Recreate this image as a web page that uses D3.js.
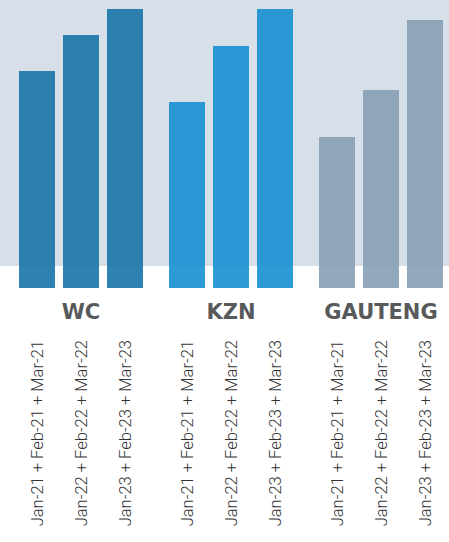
<!DOCTYPE html>
<html>
<head>
<meta charset="utf-8">
<script src="https://cdn.jsdelivr.net/npm/d3@7"></script>
<style>
    html, body { margin: 0; padding: 0; background: #ffffff; }
    svg { display: block; }
</style>
</head>
<body>
<svg id="chart"></svg>
<script>
"use strict";

const width = 449;
const height = 542;

const bar_bottom = 288;
const bar_top = 9;
const band_bottom = 266;

// data (bar heights, no axis shown)
const regions = ["WC", "KZN", "GAUTENG"];
const periods = [
    "Jan-21 + Feb-21 + Mar-21",
    "Jan-22 + Feb-22 + Mar-22",
    "Jan-23 + Feb-23 + Mar-23"
];
const wc_values = [217, 253, 279];
const kzn_values = [186, 242, 279];
const gauteng_values = [151, 198, 268];

const series = [wc_values, kzn_values, gauteng_values];

const colors = {
    "WC": "#1774a6",
    "KZN": "#1790d1",
    "GAUTENG": "#869fb5"
};


const svg1 = d3.select("#chart")
    .attr("width", width)
    .attr("height", height);

// grey band behind the bars
svg1.append("rect")
    .attr("x", 0)
    .attr("y", 0)
    .attr("width", width)
    .attr("height", band_bottom)
    .attr("fill", "#d7dfe8");

const x0 = d3.scaleBand()
    .domain(regions)
    .range([6, 456])
    .paddingInner(26 / 150)
    .paddingOuter(13 / 150);

const x1 = d3.scaleBand()
    .domain(periods)
    .range([0, x0.bandwidth()])
    .paddingInner(8 / 44)
    .paddingOuter(0);

const y = d3.scaleLinear()
    .domain([0, 279])
    .range([bar_bottom, bar_top]);

const rows = [];
regions.forEach((r, i) => {
    periods.forEach((p, j) => {
        rows.push({ region: r, period: p, value: series[i][j] });
    });
});

const group = svg1.append("g")
    .selectAll("g")
    .data(regions)
    .enter()
    .append("g")
    .attr("transform", d => `translate(${x0(d)}, 0)`);

group.selectAll("rect")
    .data(d => rows.filter(r => r.region === d))
    .enter()
    .append("rect")
    .attr("x", d => x1(d.period))
    .attr("y", d => y(d.value))
    .attr("width", x1.bandwidth())
    .attr("height", d => y(0) - y(d.value))
    .attr("fill", d => colors[d.region])
    .attr("fill-opacity", 0.9);

// region names
group.append("text")
    .attr("x", x0.bandwidth() / 2)
    .attr("y", 319)
    .attr("text-anchor", "middle")
    .style("font-family", "'DejaVu Sans', sans-serif")
    .style("font-weight", "bold")
    .style("font-size", "21px")
    .style("fill", "#58595b")
    .text(d => d);

// period labels, rotated
group.selectAll(".period")
    .data(d => rows.filter(r => r.region === d))
    .enter()
    .append("text")
    .attr("class", "period")
    .attr("transform", d => `translate(${x1(d.period) + x1.bandwidth() / 2 + 6}, 340) rotate(-90)`)
    .attr("text-anchor", "end")
    .style("font-family", "Roboto, sans-serif")
    .style("font-weight", "300")
    .style("font-size", "16.5px")
    .style("fill", "#333333")
    .text(d => d.period);
</script>
</body>
</html>
